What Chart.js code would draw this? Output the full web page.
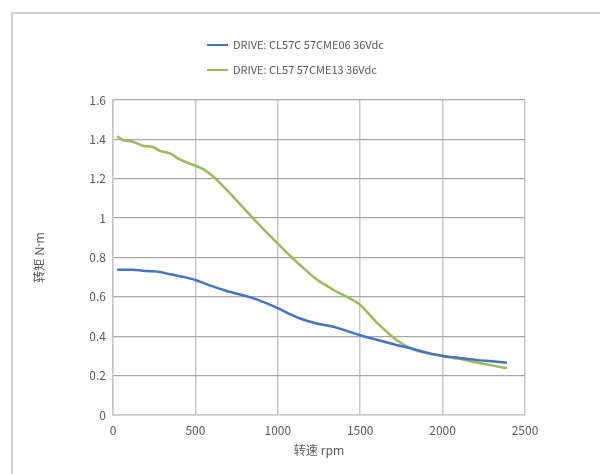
<!DOCTYPE html>
<html>
<head>
<meta charset="utf-8">
<script src="https://cdn.jsdelivr.net/npm/chart.js@4.4.1/dist/chart.umd.min.js"></script>
<style>
  html, body { margin: 0; padding: 0; background: #fff; }
  #wrap { position: relative; width: 600px; height: 474px; overflow: hidden; font-family: "Noto Sans CJK SC", "Noto Sans", sans-serif; }
  #frame { position: absolute; left: 11px; top: 12px; width: 700px; height: 600px; border-top: 2px solid #cfcfcf; border-left: 2px solid #cfcfcf; }
  #torqueChart { position: absolute; left: 0; top: 0; }
  .leg { position: absolute; left: 207px; height: 14px; font-size: 11px; color: #595959; line-height: 14px; white-space: nowrap; }
  .leg span { display: inline-block; width: 21px; height: 2.5px; vertical-align: middle; margin-right: 5px; position: relative; top: -1px; }
</style>
</head>
<body>
<div id="wrap">
  <div id="frame"></div>
  <canvas id="torqueChart" width="600" height="474"></canvas>
  <div id="legend"></div>
</div>
<script>
// speed (rpm) and torque (N·m)
const rpm = [25, 60, 120, 180, 245, 285, 345, 405, 500, 550, 610, 690, 730, 840, 1000,
  1085, 1135, 1235, 1350, 1500, 1600, 1720, 1820, 1900, 2000, 2100, 2200, 2300, 2390];
const torqueCME06 = [0.738, 0.738, 0.738, 0.733, 0.73, 0.726, 0.715, 0.705, 0.686, 0.67, 0.652, 0.63, 0.621, 0.596, 0.543,
  0.508, 0.49, 0.465, 0.445, 0.405, 0.382, 0.356, 0.336, 0.318, 0.30, 0.29, 0.28, 0.273, 0.266];
const torqueCME13 = [1.415, 1.397, 1.388, 1.368, 1.36, 1.342, 1.329, 1.298, 1.266, 1.248, 1.21, 1.143, 1.108, 1.008, 0.87,
  0.80, 0.762, 0.689, 0.63, 0.559, 0.47, 0.381, 0.334, 0.315, 0.30, 0.285, 0.268, 0.252, 0.237];
const seriesNames = ['DRIVE: CL57C 57CME06 36Vdc', 'DRIVE: CL57 57CME13 36Vdc'];
const seriesColors = ['#4472c4', '#9bbb59'];
const xTicks = [0, 500, 1000, 1500, 2000, 2500];
const yTicks = [0, 0.2, 0.4, 0.6, 0.8, 1, 1.2, 1.4, 1.6];

const toPoints = ys => rpm.map((r, i) => ({ x: r, y: ys[i] }));
const tickFont = { family: '"Noto Sans CJK SC", "Noto Sans", sans-serif', size: 12 };
const titleFont = { family: '"Noto Sans", "Noto Sans CJK SC", sans-serif', size: 12 };

// html legend, stacked like the original
const legendEl = document.getElementById('legend');
seriesNames.forEach((name, i) => {
  const row = document.createElement('div');
  row.className = 'leg';
  row.style.top = (37 + i * 25) + 'px';
  row.innerHTML = '<span style="background:' + seriesColors[i] + '"></span>' + name;
  legendEl.appendChild(row);
});

const data = {
  datasets: [
    { label: seriesNames[0], data: toPoints(torqueCME06) },
    { label: seriesNames[1], data: toPoints(torqueCME13) }
  ].map((d, i) => Object.assign(d, {
    borderColor: seriesColors[i],
    backgroundColor: seriesColors[i],
    borderWidth: 2.5,
    pointRadius: 0,
    cubicInterpolationMode: 'monotone',
    fill: false
  }))
};

const options = {
  responsive: false,
  animation: false,
  layout: { padding: { top: 100, right: 75, left: 0, bottom: 0 } },
  plugins: { legend: { display: false }, tooltip: { enabled: false } },
  scales: {
    x: {
      type: 'linear',
      min: 0,
      max: 2500,
      afterBuildTicks: s => { s.ticks = xTicks.map(v => ({ value: v })); },
      afterFit: s => { s.height = 59; },
      ticks: { color: '#595959', font: tickFont, padding: 8, maxRotation: 0, callback: v => String(v) },
      grid: { color: '#c8c8c8', lineWidth: 1.5, drawTicks: false },
      border: { color: '#c8c8c8', width: 1.5 },
      title: { display: true, text: '转速 rpm', color: '#595959', font: titleFont, padding: { bottom: 15 } }
    },
    y: {
      min: 0,
      max: 1.6,
      afterBuildTicks: s => { s.ticks = yTicks.map(v => ({ value: v })); },
      afterFit: s => { s.width = 113; },
      ticks: { color: '#595959', font: tickFont, padding: 7, callback: v => String(Math.round(v * 10) / 10) },
      grid: { color: '#a6a6a6', lineWidth: 1.3, drawTicks: false },
      border: { color: '#c8c8c8', width: 1.5 },
      title: { display: true, text: '转矩 N·m', color: '#595959', font: titleFont, padding: { top: 33 } }
    }
  }
};

new Chart(document.getElementById('torqueChart'), { type: 'line', data: data, options: options });
</script>
</body>
</html>
